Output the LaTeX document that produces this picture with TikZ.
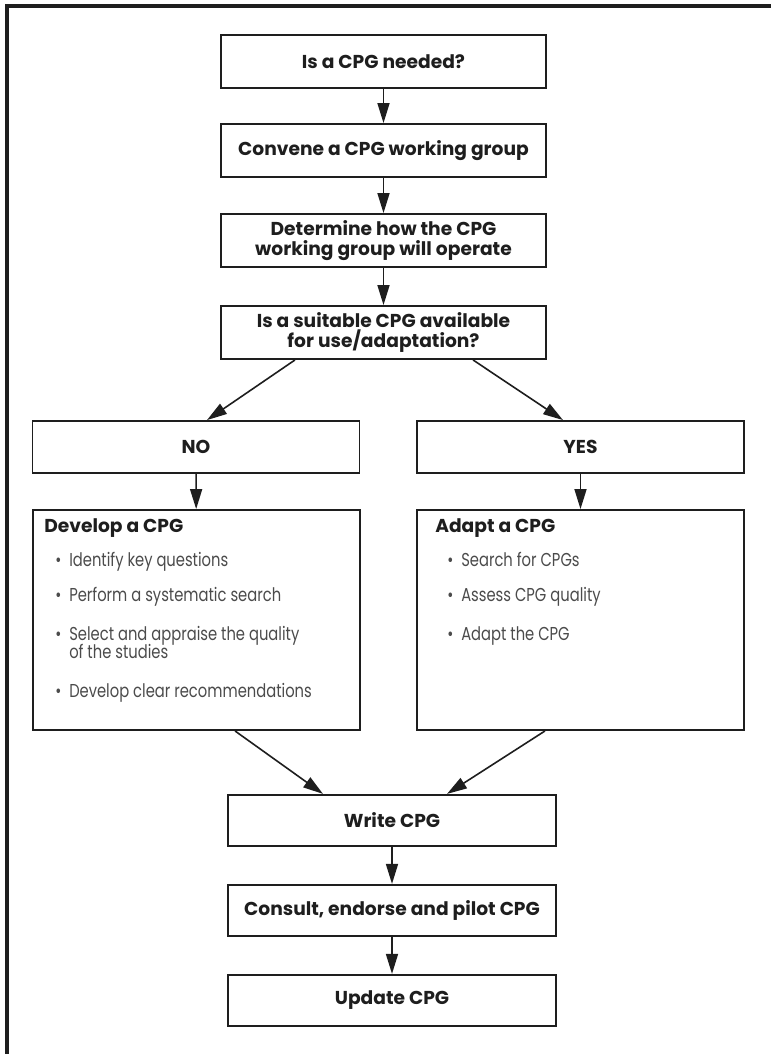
\documentclass[tikz,border=0pt]{standalone}
\usepackage{fontspec}
\setmainfont{Poppins}
\newfontfamily\bulletfont{Poppins}[FakeStretch=0.79]
\usepackage{tikz}
\usetikzlibrary{arrows.meta}
\usetikzlibrary{calc}
\usepackage{xcolor}

\definecolor{inkdark}{RGB}{30,30,30}
\definecolor{inkgrey}{RGB}{75,75,75}

\tikzset{
  stepbox/.style={draw=inkdark, line width=1.4pt, minimum width=243.75pt, minimum height=39.75pt, inner sep=0pt, align=center, text=inkdark, font=\bfseries\fontsize{14}{15}\selectfont},
  sidebox/.style={stepbox, minimum width=245.25pt, minimum height=39pt},
  lowbox/.style={stepbox, minimum width=246pt, minimum height=38.5pt},
  listbox/.style={draw=inkdark, line width=1.4pt, minimum width=245.25pt, minimum height=165pt, inner sep=0pt},
  listhead/.style={anchor=base west, inner sep=0pt, text=inkdark, font=\bfseries\fontsize{14}{15}\selectfont},
  listitem/.style={anchor=base west, inner sep=0pt, text=inkgrey, font=\bulletfont\fontsize{14}{15}\selectfont},
  flow/.style={draw=inkdark, line width=1.2pt, -{Triangle[length=15pt,width=9pt]}},
}

\begin{document}
\begin{tikzpicture}[x=0.75pt,y=0.75pt,yscale=-1,xscale=1]
\useasboundingbox (0,0) rectangle (771,1054);

%Frame
\draw [line width=2.6pt, color=inkdark] (7,1054) -- (7,6) -- (771,6) ;

%Shape: Rectangle (top column)
\node [stepbox] (need) at (383.5,61.5) {Is a CPG needed?};
\node [stepbox] (convene) at (383.5,150.5) {Convene a CPG working group};
\node [stepbox] (operate) at (383.5,240.5) {Determine how the CPG\\working group will operate};
\node [stepbox] (suitable) at (383.5,332.5) {Is a suitable CPG available\\for use/adaptation?};

%Shape: Rectangle (answers)
\node [sidebox] (no) at (196,447) {NO};
\node [sidebox] (yes) at (580.5,447) {YES};

%Shape: Rectangle (lists)
\node [listbox] (develop) at (196.5,620) {};
\node [listbox] (adapt) at (580.5,620) {};

%Shape: Rectangle (bottom column)
\node [lowbox] (write) at (392,820.5) {Write CPG};
\node [lowbox] (consult) at (392,910.5) {Consult, endorse and pilot CPG};
\node [lowbox] (update) at (392,1000.5) {Update CPG};

% Text Node
\node [listhead] (devhead) at (44,532) {Develop a CPG};
\node [listitem] (devone) at (55,566) {\makebox[10.5pt][l]{\textbullet}Identify key questions};
\node [listitem] (devtwo) at (55,601) {\makebox[10.5pt][l]{\textbullet}Perform a systematic search};
\node [listitem] (devthree) at (55,640) {\makebox[10.5pt][l]{\textbullet}Select and appraise the quality};
\node [listitem] (devthreeb) at (69,658) {of the studies};
\node [listitem] (devfour) at (55,697) {\makebox[10.5pt][l]{\textbullet}Develop clear recommendations};
% Text Node
\node [listhead] (adhead) at (435,532) {Adapt a CPG};
\node [listitem] (adone) at (447,566) {\makebox[10.5pt][l]{\textbullet}Search for CPGs};
\node [listitem] (adtwo) at (447,601) {\makebox[10.5pt][l]{\textbullet}Assess CPG quality};
\node [listitem] (adthree) at (447,640) {\makebox[10.5pt][l]{\textbullet}Adapt the CPG};

%Straight Lines
\draw [flow] (need) -- (convene) ;
\draw [flow] (convene) -- (operate) ;
\draw [flow] (operate) -- (suitable) ;
\draw [flow] ($(suitable.south)+(-88.5,0)$) -- ($(no.north)+(11,0)$) ;
\draw [flow] ($(suitable.south)+(89.5,0)$) -- ($(yes.north)+(-17.5,0)$) ;
\draw [flow] (no) -- (develop) ;
\draw [flow] (yes) -- (adapt) ;
\draw [flow] ($(develop.south)+(38.5,0)$) -- ($(write.north)+(-69,0)$) ;
\draw [flow] ($(adapt.south)+(-35.5,0)$) -- ($(write.north)+(55,0)$) ;
\draw [flow] (write) -- (consult) ;
\draw [flow] (consult) -- (update) ;

\end{tikzpicture}
\end{document}
